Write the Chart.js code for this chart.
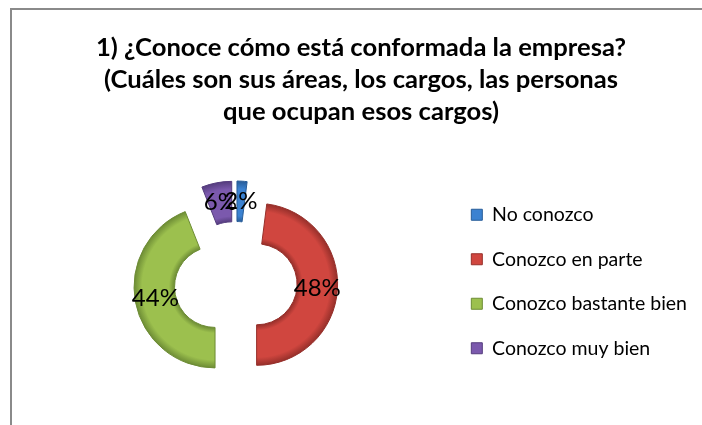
<!DOCTYPE html>
<html>
<head>
<meta charset="utf-8">
<script src="https://cdn.jsdelivr.net/npm/chart.js@4.4.1/dist/chart.umd.min.js"></script>
<style>
  html, body { margin: 0; padding: 0; background: #fff; overflow: hidden; }
  #box {
    position: absolute; left: 10px; top: 8px;
    width: 714px; height: 420px;
    border-left: 2px solid #8a8a8a; border-top: 2px solid #8a8a8a;
  }
</style>
</head>
<body>
<div id="box"><canvas id="chart"></canvas></div>
<script>
const titleLines = [
  '1) ¿Conoce cómo está conformada la empresa?',
  '(Cuáles son sus áreas, los cargos, las personas',
  'que ocupan esos cargos)'
];
const categories = ['No conozco', 'Conozco en parte', 'Conozco bastante bien', 'Conozco muy bien'];
const percents = [2, 48, 44, 6];
const colors = ['#3b82d1', '#d0463f', '#9cc04e', '#7b59ad'];
const edgeColors = ['#275c98', '#962f2a', '#6d8c35', '#553d7e'];

const EXPLODE = 21;

// push every slice out from the centre along its own mid angle,
// and give it a soft bevel-like shading
const explodePlugin = {
  id: 'explode',
  afterDatasetUpdate(chart, args) {
    const ctx = chart.ctx;
    args.meta.data.forEach((arc, i) => {
      const mid = (arc.startAngle + arc.endAngle) / 2;
      arc.x += Math.cos(mid) * EXPLODE;
      arc.y += Math.sin(mid) * EXPLODE;
      const g = ctx.createRadialGradient(arc.x, arc.y, arc.innerRadius, arc.x, arc.y, arc.outerRadius);
      g.addColorStop(0, edgeColors[i]);
      g.addColorStop(0.14, colors[i]);
      g.addColorStop(0.8, colors[i]);
      g.addColorStop(1, edgeColors[i]);
      arc.options.backgroundColor = g;
    });
  }
};

// percentage text in the middle of each ring piece
const labelPlugin = {
  id: 'sliceLabels',
  afterDatasetsDraw(chart) {
    const ctx = chart.ctx;
    const meta = chart.getDatasetMeta(0);
    ctx.save();
    ctx.font = '24px Lato';
    ctx.fillStyle = '#000';
    ctx.textAlign = 'center';
    ctx.textBaseline = 'middle';
    meta.data.forEach((arc, i) => {
      const p = arc.getCenterPoint();
      ctx.fillText(percents[i] + '%', p.x, p.y);
    });
    ctx.restore();
  }
};

new Chart(document.getElementById('chart').getContext('2d'), {
  type: 'doughnut',
  data: {
    labels: categories,
    datasets: [{
      data: percents,
      backgroundColor: colors,
      borderColor: edgeColors,
      borderWidth: 1
    }]
  },
  options: {
    responsive: true,
    maintainAspectRatio: false,
    animation: false,
    radius: 81,
    cutout: '50%',
    layout: { padding: { left: 13, right: 29, bottom: 0 } },
    plugins: {
      title: {
        display: true,
        text: titleLines,
        color: '#000',
        font: { family: 'Lato', size: 25.6, weight: 'bold', lineHeight: '32px' },
        padding: { top: 22, bottom: 8 }
      },
      legend: {
        position: 'right',
        title: {
          display: true,
          text: '',
          font: { size: 10, lineHeight: 1 },
          padding: { top: 113, bottom: 0 }
        },
        labels: {
          color: '#000',
          font: { family: 'Lato', size: 19.5 },
          boxWidth: 11,
          boxHeight: 11,
          padding: 25
        }
      },
      tooltip: { enabled: false }
    }
  },
  plugins: [explodePlugin, labelPlugin]
});
</script>
</body>
</html>
